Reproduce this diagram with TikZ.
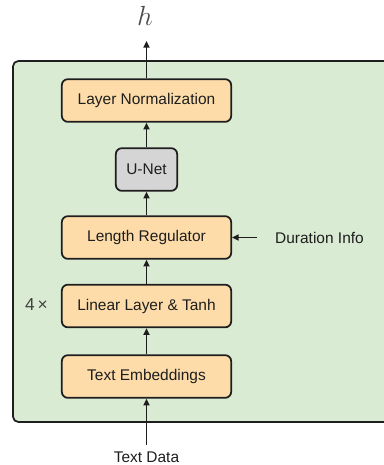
\documentclass[tikz,border=0pt]{standalone}
\usepackage{fontspec}
\setmainfont{Liberation Sans}
\usepackage{amsmath}
\usetikzlibrary{arrows.meta}
\definecolor{boxorange}{HTML}{FDDCA9}
\definecolor{boxgreen}{HTML}{DAEBD3}
\definecolor{boxgray}{HTML}{D5D5D5}
\definecolor{linegray}{HTML}{1E1E1E}
\begin{document}
\begin{tikzpicture}[x=0.75pt,y=-0.75pt]
\tikzstyle{every node}+=[inner sep=0pt,text=linegray,font=\fontsize{11.6}{13}\selectfont]
\tikzstyle{block}=[draw=linegray,line width=1.3pt,rounded corners=4.5pt,fill=boxorange,minimum width=127pt,minimum height=32pt]
\tikzstyle{flow}=[draw=linegray,line width=1.3pt,-{Triangle[length=5pt,width=4.5pt]}]
\useasboundingbox (0,0) rectangle (384,465);
\draw [linegray,line width=1.3pt,rounded corners=4pt,fill=boxgreen] (13,61) rectangle (400,422);
\node [block] (norm) at (146.5,100.5) {Layer Normalization};
\node [block,fill=boxgray,minimum width=46pt] (unet) at (146.5,169.5) {U-Net};
\node [block] (reg) at (146.5,237.5) {Length Regulator};
\node [block] (lin) at (146.5,306) {Linear Layer \& Tanh};
\node [block] (emb) at (146.5,376.5) {Text Embeddings};
\node (h) at (145,16) {\fontsize{22}{24}\selectfont\color{black!70}$h$};
\coordinate (hend) at (146.5,41);
\node (dur) at (319.5,237.5) {Duration Info};
\coordinate (durstart) at (257,237.5);
\node (rep) at (36.5,305) {\fontsize{13}{15}\selectfont\color{black!75}4\,×};
\node (data) at (146.5,457) {Text Data};
\coordinate (datastart) at (146.5,445);
\draw [flow] (datastart) -- (emb);
\draw [flow] (emb) -- (lin);
\draw [flow] (lin) -- (reg);
\draw [flow] (reg) -- (unet);
\draw [flow] (unet) -- (norm);
\draw [flow] (norm) -- (hend);
\draw [flow] (durstart) -- (reg);
\end{tikzpicture}
\end{document}
